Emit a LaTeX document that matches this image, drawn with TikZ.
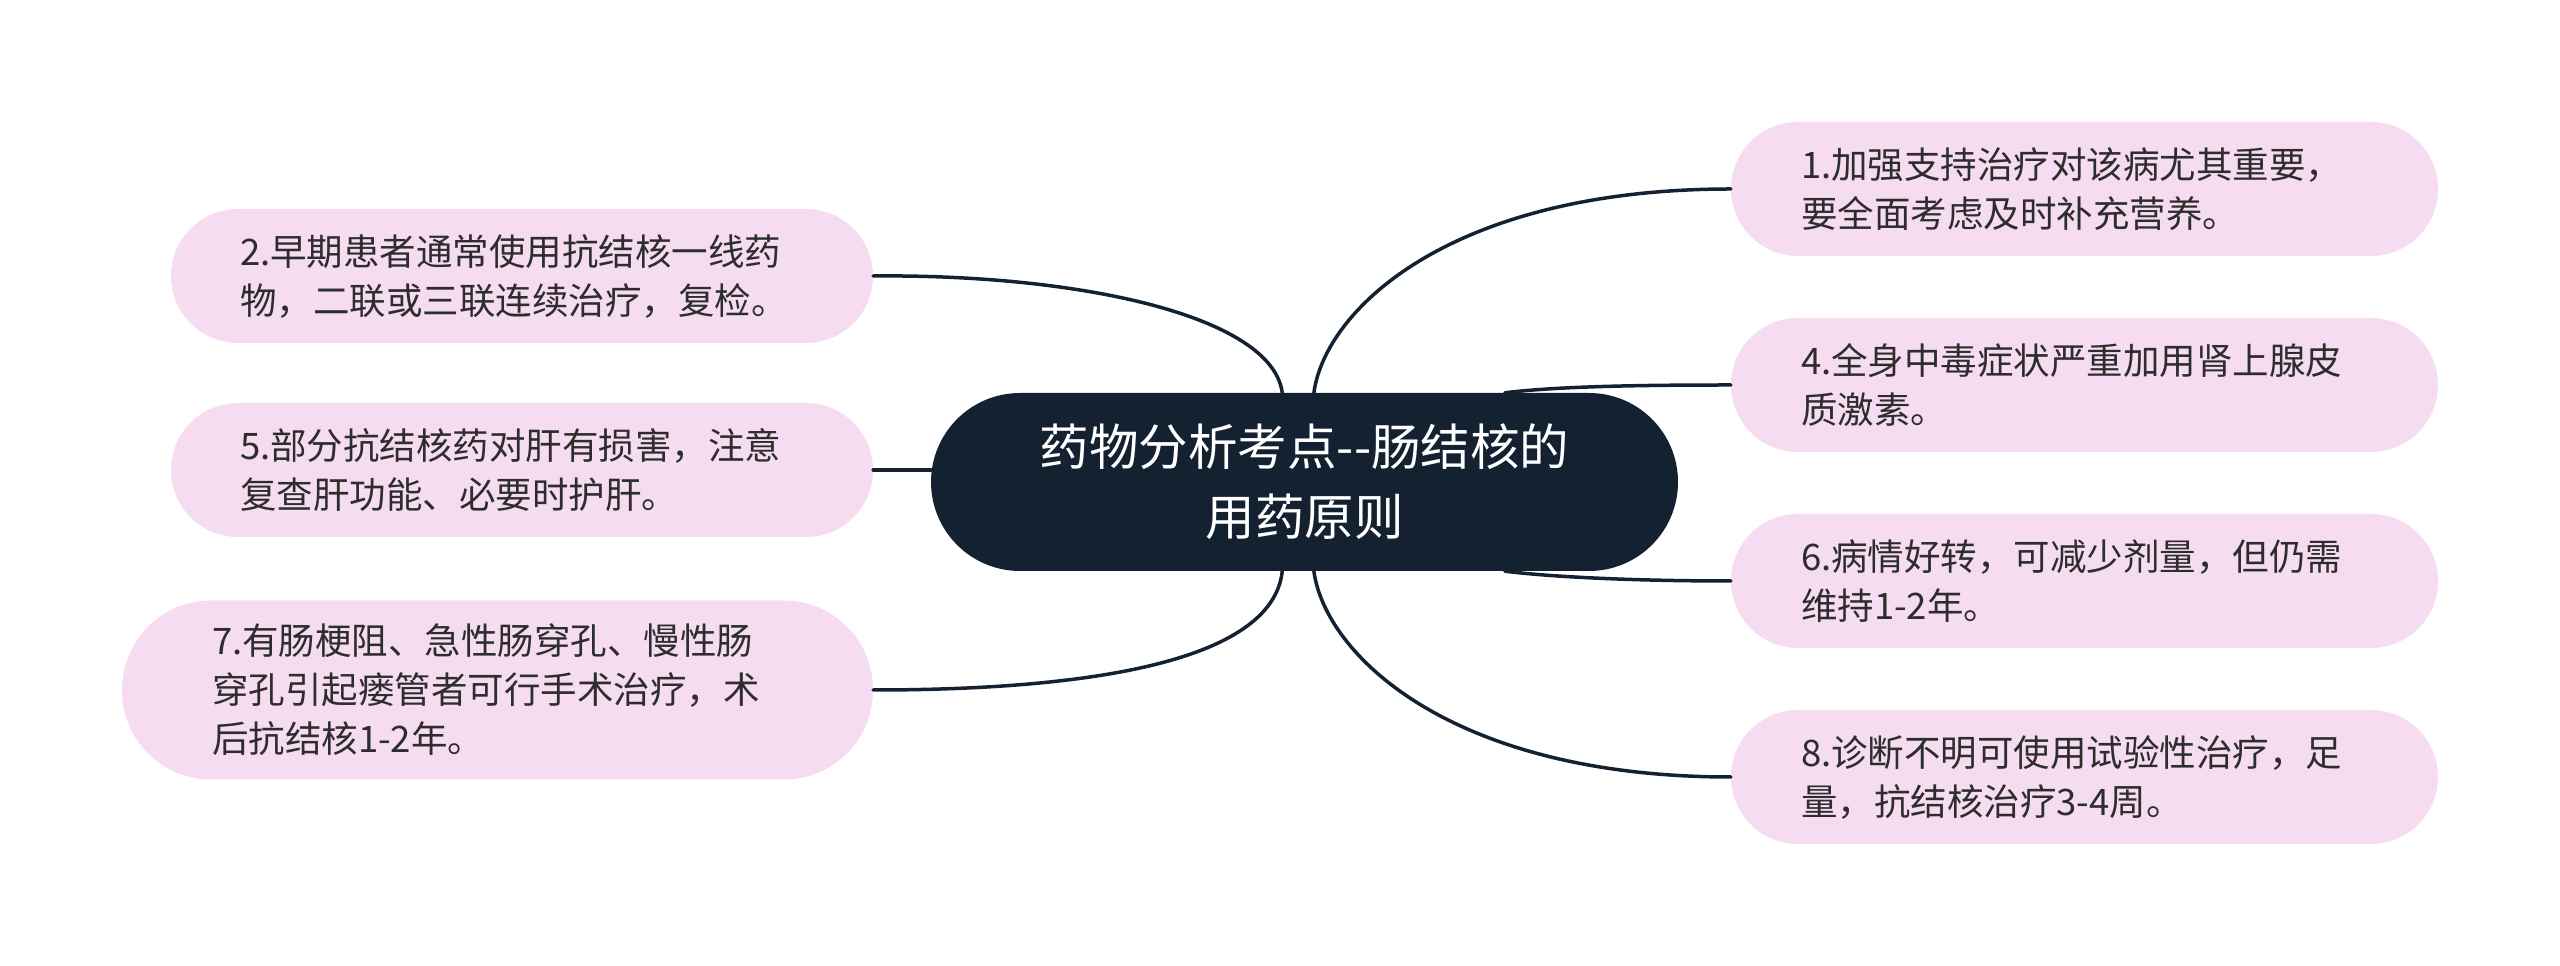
\documentclass[tikz,border=0pt]{standalone}
\usepackage{fontspec}
\newfontfamily\cjk{Noto Sans CJK SC}
\definecolor{rootbg}{RGB}{20,33,49}
\definecolor{leafbg}{RGB}{245,220,240}
\definecolor{leaftxt}{RGB}{45,45,45}

\begin{document}
\begin{tikzpicture}[line cap=round,line join=round,x=1pt,y=1pt,
  root/.style={rectangle,rounded corners=89pt,fill=rootbg,text=white,
    minimum width=747pt,minimum height=178pt,align=center,
    font=\cjk\fontsize{49.5}{70}\selectfont},
  leaf/.style={rectangle,rounded corners=67pt,fill=leafbg,text=leaftxt,
    minimum height=134pt,inner xsep=69pt,text width=564pt,align=left,
    font=\cjk\fontsize{36.5}{49}\selectfont},
  link/.style={draw=rootbg,line width=3.5pt}]
\useasboundingbox (0,0) rectangle (2560,966);
% centre
\node[root] (root) at (1304.5,484) {药物分析考点--肠结核的\\用药原则};
% left side
\node[leaf] (n2) at (522,690) {2.早期患者通常使用抗结核一线药\\物，二联或三联连续治疗，复检。};
\node[leaf] (n5) at (522,496) {5.部分抗结核药对肝有损害，注意\\复查肝功能、必要时护肝。};
\node[leaf,rounded corners=89pt,minimum height=179pt,inner xsep=90pt,text width=571pt] (n7) at (497.5,276) {7.有肠梗阻、急性肠穿孔、慢性肠\\穿孔引起瘘管者可行手术治疗，术\\后抗结核1-2年。};
% right side
\node[leaf,inner xsep=70pt,text width=567pt] (n1) at (2084.5,777) {1.加强支持治疗对该病尤其重要，\\要全面考虑及时补充营养。};
\node[leaf,inner xsep=70pt,text width=567pt] (n4) at (2084.5,581) {4.全身中毒症状严重加用肾上腺皮\\质激素。};
\node[leaf,inner xsep=70pt,text width=567pt] (n6) at (2084.5,385) {6.病情好转，可减少剂量，但仍需\\维持1-2年。};
\node[leaf,inner xsep=70pt,text width=567pt] (n8) at (2084.5,189) {8.诊断不明可使用试验性治疗，足\\量，抗结核治疗3-4周。};
% links
\draw[link] (root.104) .. controls (1272,650) and (1080,692) .. (n2.east);
\draw[link] (n5.east) -- (n5.east -| root.west);
\draw[link] (root.256) .. controls (1272,302) and (1080,276) .. (n7.east);
\draw[link] (root.84) .. controls (1325,656) and (1450,777) .. (n1.west);
\draw[link] (root.24) .. controls (1560,580) and (1650,581) .. (n4.west);
\draw[link] (root.336) .. controls (1560,388) and (1650,385) .. (n6.west);
\draw[link] (root.276) .. controls (1325,312) and (1450,189) .. (n8.west);
\end{tikzpicture}
\end{document}
